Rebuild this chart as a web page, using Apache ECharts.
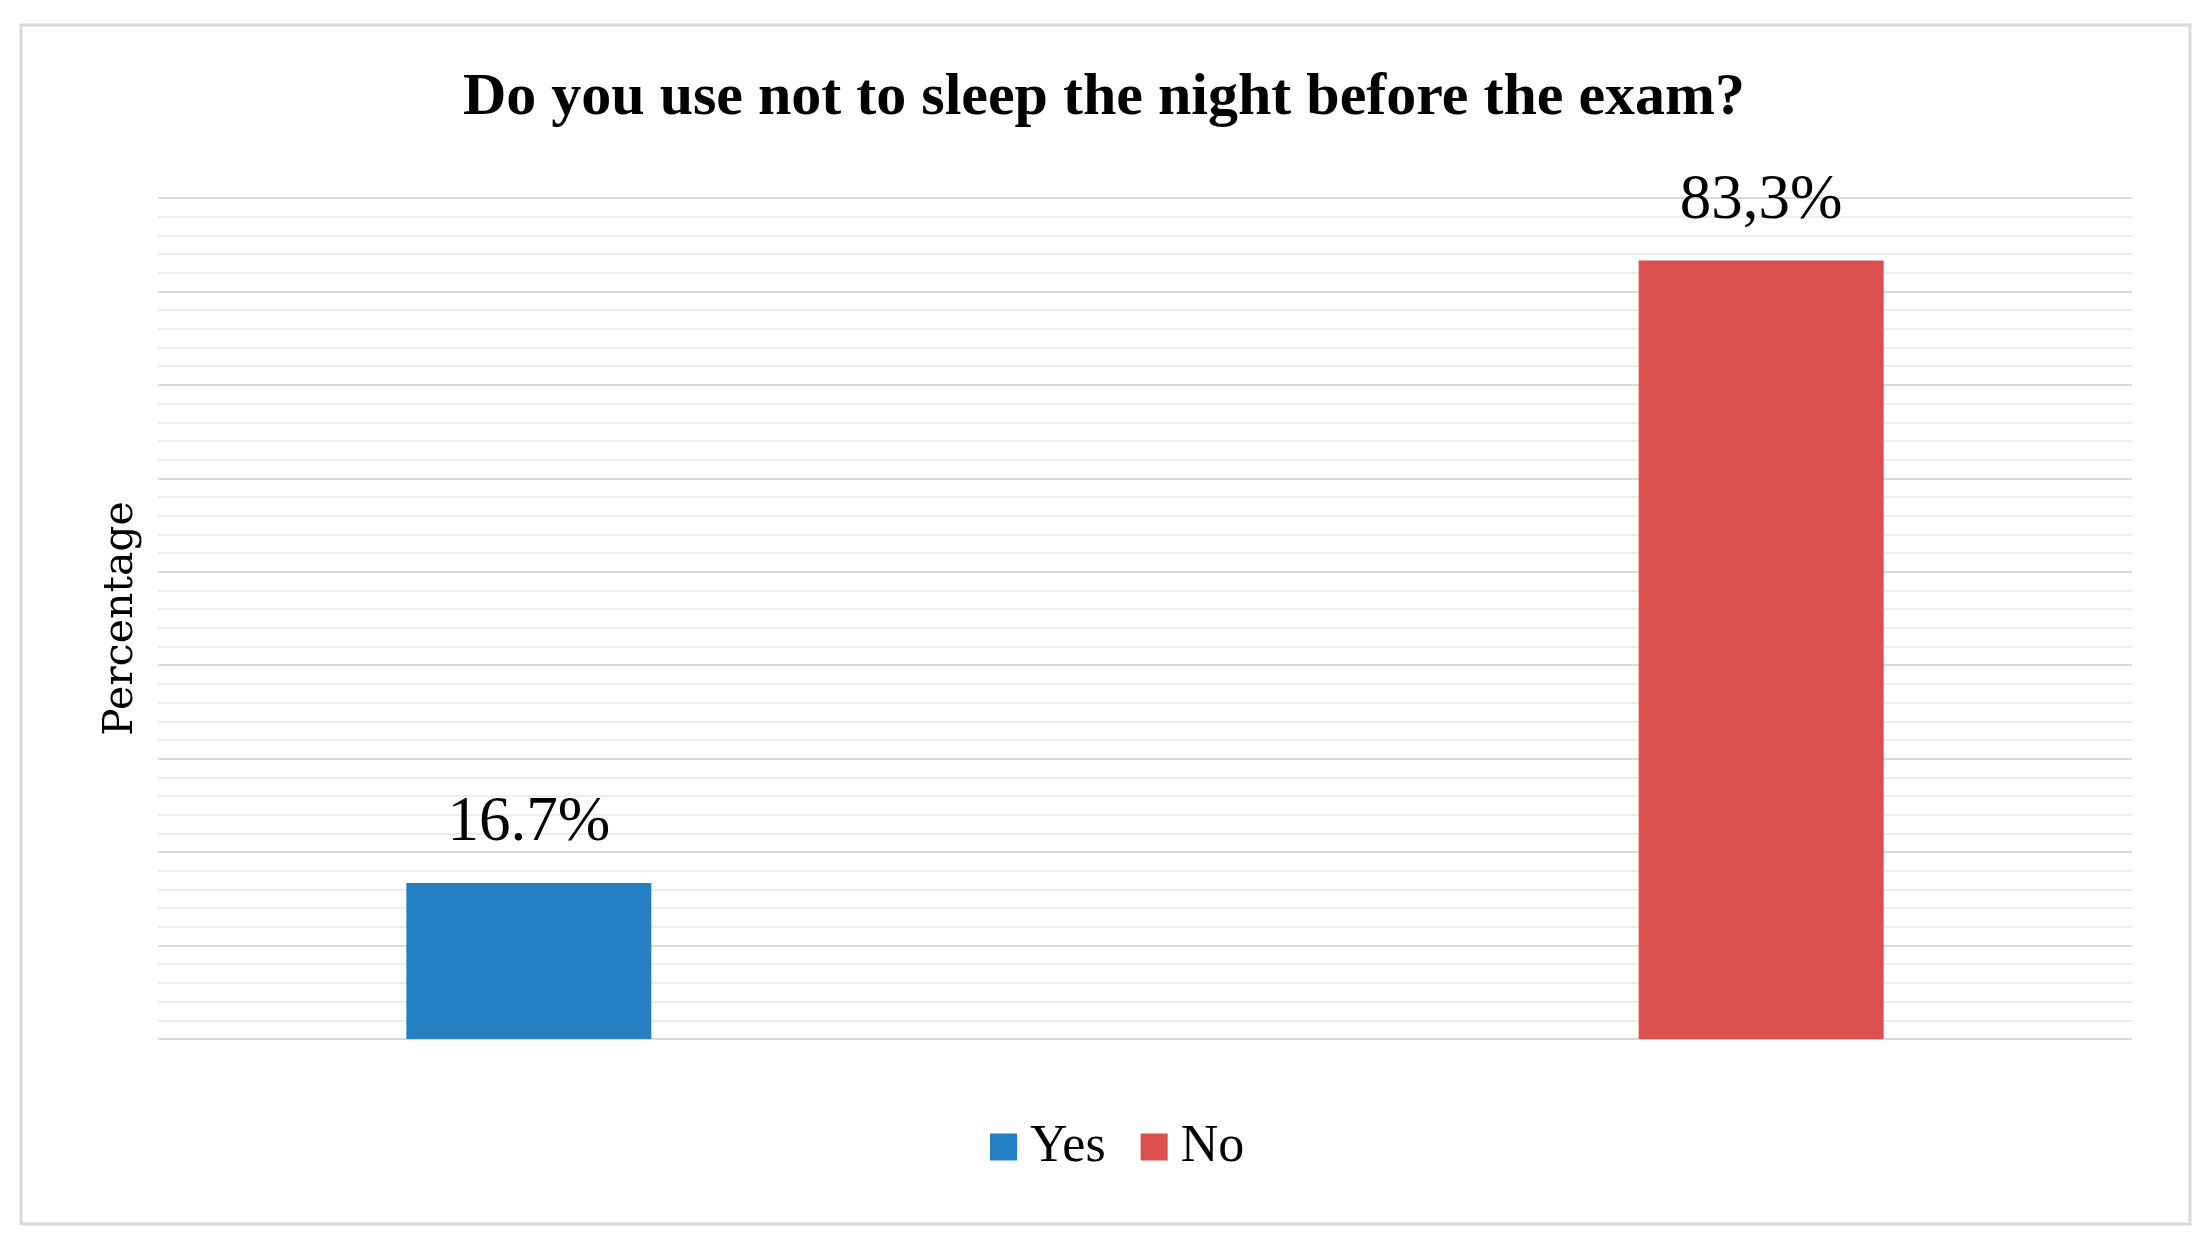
<!DOCTYPE html>
<html>
<head>
<meta charset="utf-8">
<script src="https://cdn.jsdelivr.net/npm/echarts@6/dist/echarts.min.js"></script>
<style>
html, body { margin: 0; padding: 0; background: #ffffff; }
#chart { width: 2208px; height: 1245px; }
</style>
</head>
<body>
<div id="chart"></div>
<script>
const titleText = 'Do you use not to sleep the night before the exam?';
const categories = [''];
const seriesNames = ['Yes', 'No'];
const values = [16.7, 83.3];
const valueLabels = ['16.7%', '83,3%'];
const colors = ['#2480C2', '#DB504E'];
const yAxisName = 'Percentage';

const chart = echarts.init(document.getElementById('chart'), null, { renderer: 'canvas' });

const option = {
  animation: false,
  backgroundColor: '#ffffff',
  graphic: [{
    type: 'rect',
    shape: { x: 21, y: 25, width: 2169, height: 1199 },
    style: { fill: 'none', stroke: '#d9d9d9', lineWidth: 3 },
    z: -1
  }],
  title: {
    text: titleText,
    left: 'center',
    top: 63,
    textStyle: {
      fontFamily: 'Liberation Serif',
      fontWeight: 'bold',
      fontSize: 60,
      color: '#000000'
    }
  },
  legend: {
    data: seriesNames,
    left: 985,
    top: 1116,
    icon: 'rect',
    itemWidth: 27,
    itemHeight: 27,
    itemGap: 35,
    textStyle: {
      fontFamily: 'Liberation Serif',
      fontSize: 52,
      color: '#000000',
      padding: [0, 0, 0, 8]
    }
  },
  grid: { left: 158, right: 76, top: 198, bottom: 206, containLabel: false },
  xAxis: {
    type: 'category',
    data: categories,
    axisLine: { show: false },
    axisTick: { show: false },
    axisLabel: { show: false }
  },
  yAxis: {
    type: 'value',
    min: 0,
    max: 90,
    interval: 10,
    name: yAxisName,
    nameLocation: 'middle',
    nameGap: 16,
    nameTextStyle: { fontFamily: 'DejaVu Serif', fontSize: 41, color: '#000000' },
    axisLine: { show: false },
    axisTick: { show: false },
    axisLabel: { show: false },
    splitLine: { show: true, lineStyle: { color: '#d9d9d9', width: 2 } },
    minorTick: { show: false, splitNumber: 5 },
    minorSplitLine: { show: true, lineStyle: { color: '#ededed', width: 2 } }
  },
  series: seriesNames.map((name, i) => ({
    name: name,
    type: 'bar',
    data: [values[i]],
    barWidth: 245,
    barGap: '403%',
    itemStyle: { color: colors[i] },
    label: {
      show: true,
      position: 'top',
      distance: 28,
      formatter: valueLabels[i],
      fontFamily: 'Liberation Serif',
      fontSize: 63,
      color: '#000000'
    }
  }))
};

chart.setOption(option);
</script>
</body>
</html>
